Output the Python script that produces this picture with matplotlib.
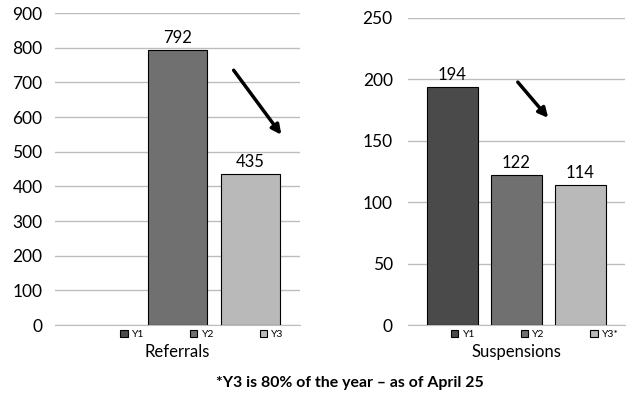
import numpy as np
import matplotlib.pyplot as plt
from matplotlib.patches import FancyArrowPatch

plt.rcParams['font.family'] = ['Lato', 'DejaVu Sans']

years = ["Y1", "Y2", "Y3"]
years_susp = ["Y1", "Y2", "Y3*"]
referrals = [np.nan, 792, 435]   # no Y1 referral count
suspensions = [194, 122, 114]
colors = ["#4a4a4a", "#707070", "#b9b9b9"]

W, H = 629, 395
fig = plt.figure(figsize=(W / 100, H / 100), dpi=100)


def px_axes(x0, x1, ytop, ybot):
    return fig.add_axes([x0 / W, 1 - ybot / H, (x1 - x0) / W, (ybot - ytop) / H])


def draw_panel(ax, values, names, width, xlim, ymax, step, title, leg_x, pad):
    for i, (v, name, c) in enumerate(zip(values, names, colors)):
        ax.bar(i, v, width, color=c, edgecolor="black", linewidth=0.8,
               label=name, zorder=3)
        if not np.isnan(v):
            ax.annotate(f"{v:.0f}", (i, v), xytext=(0, 3), textcoords="offset points",
                        ha="center", va="bottom", fontsize=12)
    ax.set_xlim(*xlim)
    ax.set_ylim(0, ymax)
    ax.set_yticks(np.arange(0, ymax + 1, step))
    ax.yaxis.grid(True, color="#bdbdbd", linewidth=1, zorder=0)
    ax.set_xticks([])
    ax.tick_params(axis="y", length=0, labelsize=12.5, pad=pad)
    for s in ["top", "right", "left"]:
        ax.spines[s].set_visible(False)
    ax.spines["bottom"].set_color("#bdbdbd")
    ax.legend(ncol=3, loc="upper center", bbox_to_anchor=(leg_x, 0.002),
              frameon=False, fontsize=7.5, handlelength=0.7, handleheight=0.7,
              handletextpad=0.4, columnspacing=4.4, borderpad=0)
    ax.text(0.5, -0.088, title, transform=ax.transAxes, ha="center", va="center",
            fontsize=12)


ax1 = px_axes(55, 300, 13, 325)
draw_panel(ax1, referrals, years, 0.808, (-0.678, 2.678), 900, 100,
           "Referrals", 0.6, 9)

ax2 = px_axes(408, 625, 18, 325)
draw_panel(ax2, suspensions, years_susp, 0.797, (-0.695, 2.695), 250, 50,
           "Suspensions", 0.585, 11)

# downward trend arrows
for (xa, ya), (xb, yb) in [((232, 68), (283, 137)), ((516, 80), (550, 120))]:
    fig.add_artist(FancyArrowPatch((xa / W, 1 - ya / H), (xb / W, 1 - yb / H),
                                   transform=fig.transFigure, arrowstyle="-|>",
                                   mutation_scale=14, linewidth=2.5, color="black"))

fig.text(0.556, 1 - 383 / H, "*Y3 is 80% of the year \u2013 as of April 25",
         ha="center", va="center", fontsize=11.4, fontweight="bold")

fig.savefig("out.png", dpi=100)
